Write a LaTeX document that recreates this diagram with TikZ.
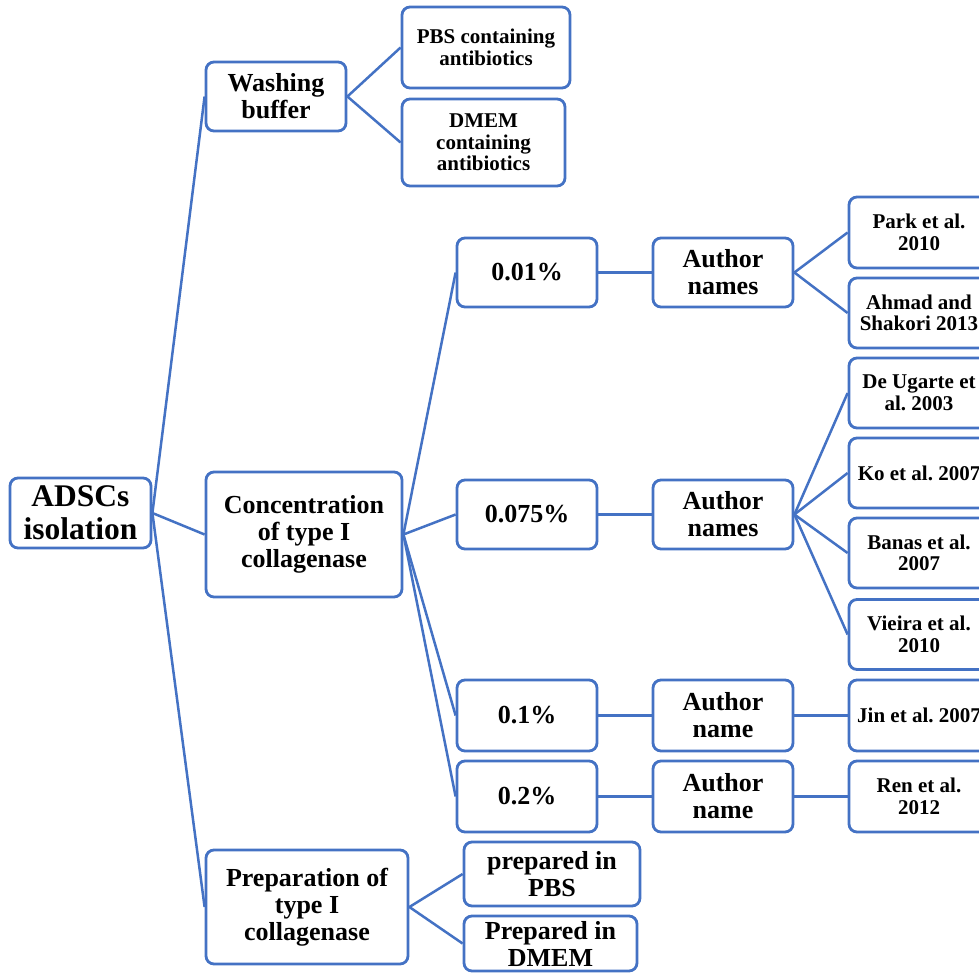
\documentclass[tikz,border=0pt]{standalone}
\usepackage{fontspec}
\setmainfont{Liberation Serif}
\frenchspacing
\definecolor{myblue}{RGB}{68,114,196}
\tikzset{
  box/.style={draw=myblue, line width=2.8pt, rounded corners=8pt, fill=white, inner sep=0pt, align=center, font=\fontsize{26}{27}\selectfont\bfseries},
  smallbox/.style={box, font=\fontsize{21}{21.5}\selectfont\bfseries},
  bigbox/.style={box, font=\fontsize{31.5}{33}\selectfont\bfseries},
  conn/.style={draw=myblue, line width=2.5pt},
  sz/.style 2 args={minimum width=#1pt, minimum height=#2pt}
}
\begin{document}
\frenchspacing
\begin{tikzpicture}[x=1pt,y=-1pt]
\clip (0,0) rectangle (979,972);
\fill[white] (0,0) rectangle (979,972);
% connectors first (nodes are filled and cover the ends)
\coordinate (dummy) at (0,0);
% level 0
\node[bigbox, sz={141}{70}] (adsc) at (80.5,513) {ADSCs\\isolation};
% level 1
\node[box, sz={140}{69}] (wash) at (276,96.5) {Washing\\buffer};
\node[box, sz={196}{125}] (conc) at (304,534.5) {Concentration\\of type I\\collagenase};
\node[box, sz={202}{114}] (prep) at (307,907) {Preparation of\\type I\\collagenase};
% washing children
\node[smallbox, sz={168}{81}] (pbsA) at (486,47.5) {PBS containing\\antibiotics};
\node[smallbox, sz={163}{87}] (dmemA) at (483.5,142.5) {DMEM\\containing\\antibiotics};
% concentrations
\node[box, sz={140}{69}] (c1) at (527,272.5) {0.01\%};
\node[box, sz={140}{69}] (c2) at (527,514.5) {0.075\%};
\node[box, sz={140}{71}] (c3) at (527,715.5) {0.1\%};
\node[box, sz={140}{71}] (c4) at (527,796.5) {0.2\%};
% authors
\node[box, sz={140}{69}] (a1) at (723,272.5) {Author\\names};
\node[box, sz={140}{69}] (a2) at (723,514.5) {Author\\names};
\node[box, sz={140}{71}] (a3) at (723,715.5) {Author\\name};
\node[box, sz={140}{71}] (a4) at (723,796.5) {Author\\name};
% references
\node[smallbox, sz={140}{71}] (park) at (919,232.5) {Park et al.\\2010};
\node[smallbox, sz={140}{70}] (ahmad) at (919,313) {Ahmad and\\Shakori 2013};
\node[smallbox, sz={140}{70}] (ugarte) at (919,393) {De Ugarte et\\al. 2003};
\node[smallbox, sz={140}{70}] (ko) at (919,473) {Ko et al. 2007};
\node[smallbox, sz={140}{70}] (banas) at (919,553) {Banas et al.\\2007};
\node[smallbox, sz={140}{70}] (vieira) at (919,634.5) {Vieira et al.\\2010};
\node[smallbox, sz={140}{71}] (jin) at (919,715.5) {Jin et al. 2007};
\node[smallbox, sz={140}{71}] (ren) at (919,796.5) {Ren et al.\\2012};
% preparation children
\node[box, sz={176}{64}] (ppbs) at (552,874) {prepared in\\PBS};
\node[box, sz={173}{55}] (pdmem) at (550.5,943.5) {Prepared in\\DMEM};
% connectors
\draw[conn] (adsc.east) -- (wash.west);
\draw[conn] (adsc.east) -- (conc.west);
\draw[conn] (adsc.east) -- (prep.west);
\draw[conn] (wash.east) -- (pbsA.west);
\draw[conn] (wash.east) -- (dmemA.west);
\draw[conn] (conc.east) -- (c1.west);
\draw[conn] (conc.east) -- (c2.west);
\draw[conn] (conc.east) -- (c3.west);
\draw[conn] (conc.east) -- (c4.west);
\draw[conn] (c1.east) -- (a1.west);
\draw[conn] (c2.east) -- (a2.west);
\draw[conn] (c3.east) -- (a3.west);
\draw[conn] (c4.east) -- (a4.west);
\draw[conn] (a1.east) -- (park.west);
\draw[conn] (a1.east) -- (ahmad.west);
\draw[conn] (a2.east) -- (ugarte.west);
\draw[conn] (a2.east) -- (ko.west);
\draw[conn] (a2.east) -- (banas.west);
\draw[conn] (a2.east) -- (vieira.west);
\draw[conn] (a3.east) -- (jin.west);
\draw[conn] (a4.east) -- (ren.west);
\draw[conn] (prep.east) -- (ppbs.west);
\draw[conn] (prep.east) -- (pdmem.west);
\end{tikzpicture}
\end{document}
